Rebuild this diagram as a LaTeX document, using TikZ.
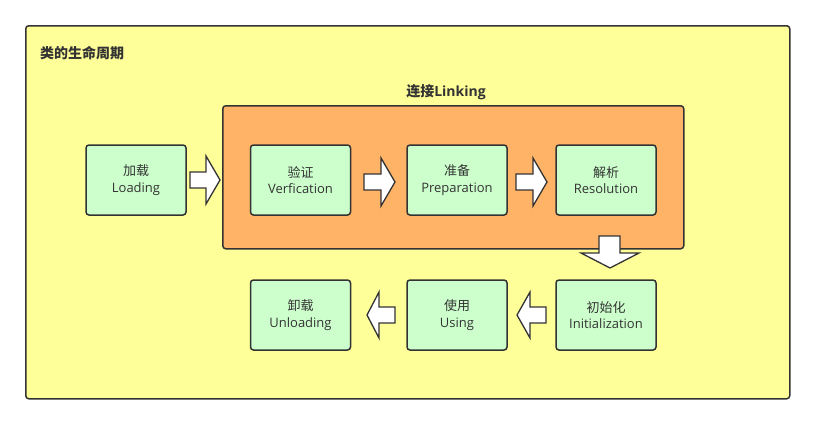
\documentclass[tikz,border=0pt]{standalone}
\usepackage{fontspec}
\setmainfont{Open Sans}
\newfontfamily\cjk{Noto Sans CJK SC}
\definecolor{lineclr}{HTML}{333333}
\definecolor{yellowbg}{HTML}{FFFF99}
\definecolor{orangebg}{HTML}{FFB366}
\definecolor{greenbg}{HTML}{CCFFCC}
\definecolor{txt}{HTML}{333333}
\tikzset{
  framebox/.style={draw=lineclr, line width=1.5pt, rounded corners=3pt},
  stage/.style={draw=lineclr, line width=1.5pt, rounded corners=3pt, fill=greenbg,
    minimum width=100pt, minimum height=70pt, inner sep=0pt, align=center,
    text=txt, font=\fontsize{13}{16.5}\selectfont},
  blockarrow/.style={draw=lineclr, line width=1.3pt, fill=white, line join=miter},
  titletext/.style={text=txt, font=\cjk\bfseries\fontsize{14}{16}\selectfont, inner sep=0pt}
}
\begin{document}
\begin{tikzpicture}[x=1pt,y=-1pt]
\useasboundingbox (0,0) rectangle (814,424);
\fill[white] (0,0) rectangle (814,424);
% outer frame
\node[framebox, fill=yellowbg, minimum width=764pt, minimum height=373pt, anchor=north west] (outer) at (25,25) {};
\node[titletext, anchor=west] (title) at (40,53) {类的生命周期};
% linking frame
\node[framebox, fill=orangebg, minimum width=461pt, minimum height=143pt, anchor=north west] (link) at (222,105) {};
\node[titletext] (linktitle) at (446,92) {连接{\fontspec{Open Sans}\bfseries Linking}};
% stages
\node[stage] (load) at (136,180) {{\cjk 加载}\\Loading};
\node[stage] (verify) at (300.5,180) {{\cjk 验证}\\Verfication};
\node[stage] (prep) at (457,180) {{\cjk 准备}\\Preparation};
\node[stage] (resol) at (606,180) {{\cjk 解析}\\Resolution};
\node[stage] (unload) at (300.5,315) {{\cjk 卸载}\\Unloading};
\node[stage] (use) at (457,315) {{\cjk 使用}\\Using};
\node[stage] (init) at (606,315) {{\cjk 初始化}\\Initialization};
% block arrows
\draw[blockarrow] (190,172) -- (206,172) -- (206,156) -- (220,180) -- (206,204) -- (206,188) -- (190,188) -- cycle;
\draw[blockarrow] (364,174) -- (381,174) -- (381,158) -- (395,182) -- (381,206) -- (381,190) -- (364,190) -- cycle;
\draw[blockarrow] (516,174) -- (533,174) -- (533,158) -- (547,182) -- (533,206) -- (533,190) -- (516,190) -- cycle;
\draw[blockarrow] (599,236) -- (620,236) -- (620,253) -- (639,253) -- (610,268) -- (581,253) -- (599,253) -- cycle;
\draw[blockarrow] (546,307) -- (530,307) -- (530,292) -- (517,315) -- (530,338) -- (530,323) -- (546,323) -- cycle;
\draw[blockarrow] (395,307) -- (379,307) -- (379,292) -- (367,315) -- (379,338) -- (379,323) -- (395,323) -- cycle;
\end{tikzpicture}
\end{document}
